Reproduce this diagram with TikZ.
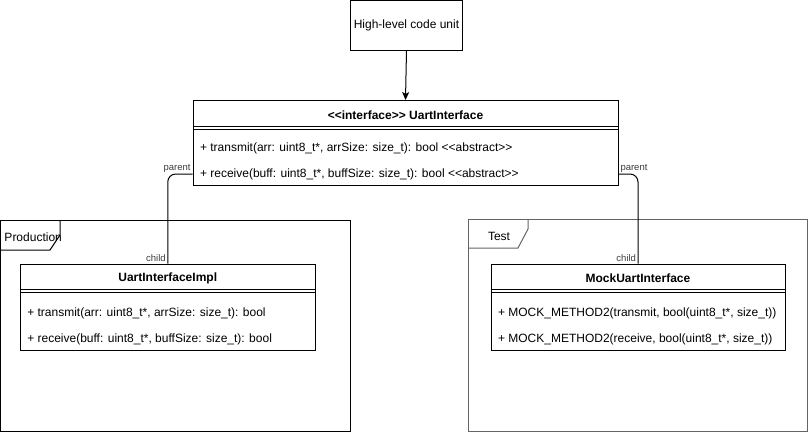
\documentclass[tikz,border=0pt]{standalone}
\usepackage{fontspec}
\setmainfont{Liberation Sans}
\usetikzlibrary{arrows.meta}

\definecolor{testgray}{RGB}{100,100,100}
\definecolor{labelgray}{RGB}{60,60,60}

\tikzset{
    classbox/.style={draw, minimum height=86pt, inner sep=0pt},
    classtitle/.style={font=\fontsize{12}{14}\selectfont\bfseries},
    classrow/.style={anchor=west, inner sep=0pt},
    endlabel/.style={font=\fontsize{9.5}{11}\selectfont, text=labelgray, inner sep=1.5pt},
}

\begin{document}
\begin{tikzpicture}[x=1pt, y=-1pt, line width=1pt, font=\fontsize{12}{14}\selectfont]
    \useasboundingbox (0,0) rectangle (809,432);

    % packages
    \draw (0.5,220) rectangle (350,431);
    \draw (0.5,250) -- (50,250) -- (60,235) -- (60,220);
    \node[anchor=west, inner sep=0pt] (prodname) at (4,237) {Production};
    \draw[testgray] (468,219.5) rectangle (807,431);
    \draw[testgray] (468,248) -- (518,248) -- (528,229) -- (528,219.5);
    \node (testname) at (499,236) {Test};

    % caller
    \node[draw, minimum width=109pt, minimum height=50pt] (caller) at (406.5,25) {High-level code unit};

    % interface
    \node[classbox, minimum width=425pt, minimum height=85pt] (iface) at (405.5,143) {};
    \node[classtitle] (iface-title) at ([yshift=-15pt]iface.north) {<{}<interface>{}> UartInterface};
    \draw ([yshift=-26pt]iface.north west) -- ([yshift=-26pt]iface.north east);
    \draw ([yshift=-29pt]iface.north west) -- ([yshift=-29pt]iface.north east);
    \node[classrow] (iface-tx) at ([xshift=7pt, yshift=-48pt]iface.north west)
        {+ transmit(arr: uint8\_t*, arrSize: size\_t): bool <{}<abstract>{}>};
    \node[classrow] (iface-rx) at ([xshift=7pt, yshift=-74pt]iface.north west)
        {+ receive(buff: uint8\_t*, buffSize: size\_t): bool <{}<abstract>{}>};

    % production class
    \node[classbox, minimum width=295pt] (impl) at (167.75,307) {};
    \node[classtitle] (impl-title) at ([yshift=-15pt]impl.north) {UartInterfaceImpl};
    \draw ([yshift=-26pt]impl.north west) -- ([yshift=-26pt]impl.north east);
    \draw ([yshift=-29pt]impl.north west) -- ([yshift=-29pt]impl.north east);
    \node[classrow] (impl-tx) at ([xshift=7pt, yshift=-49.5pt]impl.north west)
        {+ transmit(arr: uint8\_t*, arrSize: size\_t): bool};
    \node[classrow] (impl-rx) at ([xshift=7pt, yshift=-76pt]impl.north west)
        {+ receive(buff: uint8\_t*, buffSize: size\_t): bool};

    % mock class
    \node[classbox, minimum width=294pt] (mock) at (638,307) {};
    \node[classtitle] (mock-title) at ([yshift=-15pt]mock.north) {MockUartInterface};
    \draw ([yshift=-26pt]mock.north west) -- ([yshift=-26pt]mock.north east);
    \draw ([yshift=-29pt]mock.north west) -- ([yshift=-29pt]mock.north east);
    \node[classrow] (mock-tx) at ([xshift=7pt, yshift=-49.5pt]mock.north west)
        {+ MOCK\_METHOD2(transmit, bool(uint8\_t*, size\_t))};
    \node[classrow] (mock-rx) at ([xshift=7pt, yshift=-76pt]mock.north west)
        {+ MOCK\_METHOD2(receive, bool(uint8\_t*, size\_t))};

    % connectors
    \draw[-{Stealth[length=8pt, width=7pt, inset=2pt]}] (caller.south) -- (iface.north);
    \coordinate (iface-left) at ([yshift=-31pt]iface.west);
    \coordinate (iface-right) at ([yshift=-31pt]iface.east);
    \draw[rounded corners=8pt] (iface-left) -| (impl.north);
    \draw[rounded corners=8pt] (iface-right) -| (mock.north);
    \node[endlabel, anchor=south east] (parent-l) at (iface-left) {parent};
    \node[endlabel, anchor=south west] (parent-r) at (iface-right) {parent};
    \node[endlabel, anchor=south east] (child-l) at (impl.north) {child};
    \node[endlabel, anchor=south east] (child-r) at (mock.north) {child};
\end{tikzpicture}
\end{document}
